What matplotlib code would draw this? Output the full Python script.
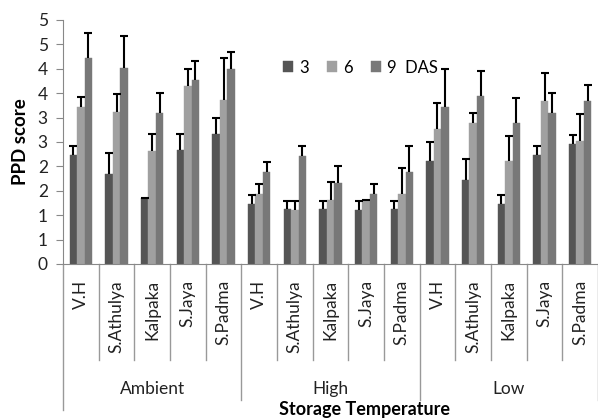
import matplotlib.pyplot as plt
import matplotlib.transforms as mtransforms
import numpy as np

plt.rcParams['font.family'] = ['Lato', 'DejaVu Sans']

varieties = ["V.H", "S.Athulya", "Kalpaka", "S.Jaya", "S.Padma"]
groups = ["Ambient", "High", "Low"]

das3 = [2.24, 1.85, 1.35, 2.33, 2.67,
        1.22, 1.12, 1.12, 1.11, 1.12,
        2.11, 1.73, 1.23, 2.23, 2.45]
das6 = [3.22, 3.12, 2.32, 3.64, 3.36,
        1.44, 1.10, 1.32, 1.32, 1.44,
        2.77, 2.89, 2.11, 3.34, 2.53]
das9 = [4.23, 4.01, 3.10, 3.77, 4.00,
        1.88, 2.21, 1.66, 1.44, 1.88,
        3.21, 3.45, 2.89, 3.10, 3.34]

err3 = [0.18, 0.42, 0.00, 0.34, 0.33,
        0.20, 0.18, 0.18, 0.19, 0.18,
        0.39, 0.42, 0.19, 0.19, 0.19]
err6 = [0.20, 0.37, 0.35, 0.36, 0.86,
        0.20, 0.20, 0.36, 0.00, 0.53,
        0.52, 0.20, 0.52, 0.58, 0.54]
err9 = [0.50, 0.66, 0.40, 0.39, 0.34,
        0.20, 0.21, 0.35, 0.20, 0.53,
        0.78, 0.51, 0.51, 0.40, 0.33]

series = [("3", das3, err3, "#555555"),
          ("6", das6, err6, "#a0a0a0"),
          ("9  DAS", das9, err9, "#787878")]

fig = plt.figure(figsize=(5.98, 4.18), dpi=100)
fig.patch.set_facecolor('white')
ax = fig.add_axes([63 / 598, 1 - 264 / 418, 535 / 598, 244 / 418])

n = len(das3)
x = np.arange(n)
w = 0.21
for i, (label, vals, errs, color) in enumerate(series):
    pos = x + (i - 1) * w
    ax.bar(pos, vals, width=w, color=color, edgecolor=color, linewidth=0.3,
           label=label, zorder=2)
    eb = ax.errorbar(pos, vals, yerr=[np.zeros(n), errs], fmt='none',
                     ecolor='black', elinewidth=1.5, capsize=2.7, capthick=1.5,
                     zorder=3)
    # only the upper half of each error bar is drawn
    eb[1][0].set_visible(False)

ax.set_xlim(-0.5, n - 0.5)
ax.set_ylim(0, 5)
ax.set_yticks(np.arange(0, 5.01, 0.5))
ax.yaxis.set_major_formatter(plt.FuncFormatter(lambda v, _: f'{int(np.floor(v + 0.5))}'))
ax.set_xticks([])
ax.tick_params(axis='y', direction='out', length=5, color='#888888',
               labelsize=12.5, labelcolor='#222222', pad=6)

for s in ['top', 'right']:
    ax.spines[s].set_visible(False)
ax.spines['left'].set_color('#888888')
ax.spines['bottom'].set_color('#888888')
ax.spines['left'].set_bounds(0, 5)

ax.set_ylabel("PPD score", fontsize=13.5, fontweight='bold', labelpad=6)

# category labels and separators below the axis
trans = mtransforms.blended_transform_factory(ax.transData, ax.transAxes)
px = 1 / 244  # one pixel in axes height
labels = varieties * len(groups)
for k, lab in enumerate(labels):
    ax.text(k, -16 * px, lab, transform=trans, rotation=90, ha='center',
            va='top', fontsize=12.5, color='#222222')
for k in range(n + 1):
    if k == 0:
        bottom = -146 * px
    elif k % 5 == 0:
        bottom = -136 * px
    else:
        bottom = -96 * px
    ax.plot([k - 0.5, k - 0.5], [0, bottom], transform=trans, color='#999999',
            lw=1.0, clip_on=False)
for g, name in enumerate(groups):
    ax.text(g * 5 + 2, -125 * px, name, transform=trans, ha='center',
            va='center', fontsize=12.5, color='#222222')

ax.text(7.96, -146 * px, "Storage Temperature", transform=trans, ha='center',
        va='center', fontsize=13, fontweight='bold')

ax.legend(loc='center left', bbox_to_anchor=(0.39, 0.805), ncol=3,
          frameon=False, fontsize=12, handlelength=0.6, handleheight=0.6,
          handletextpad=0.35, columnspacing=1.1, borderpad=0.2)

plt.savefig("out.png", dpi=100)
